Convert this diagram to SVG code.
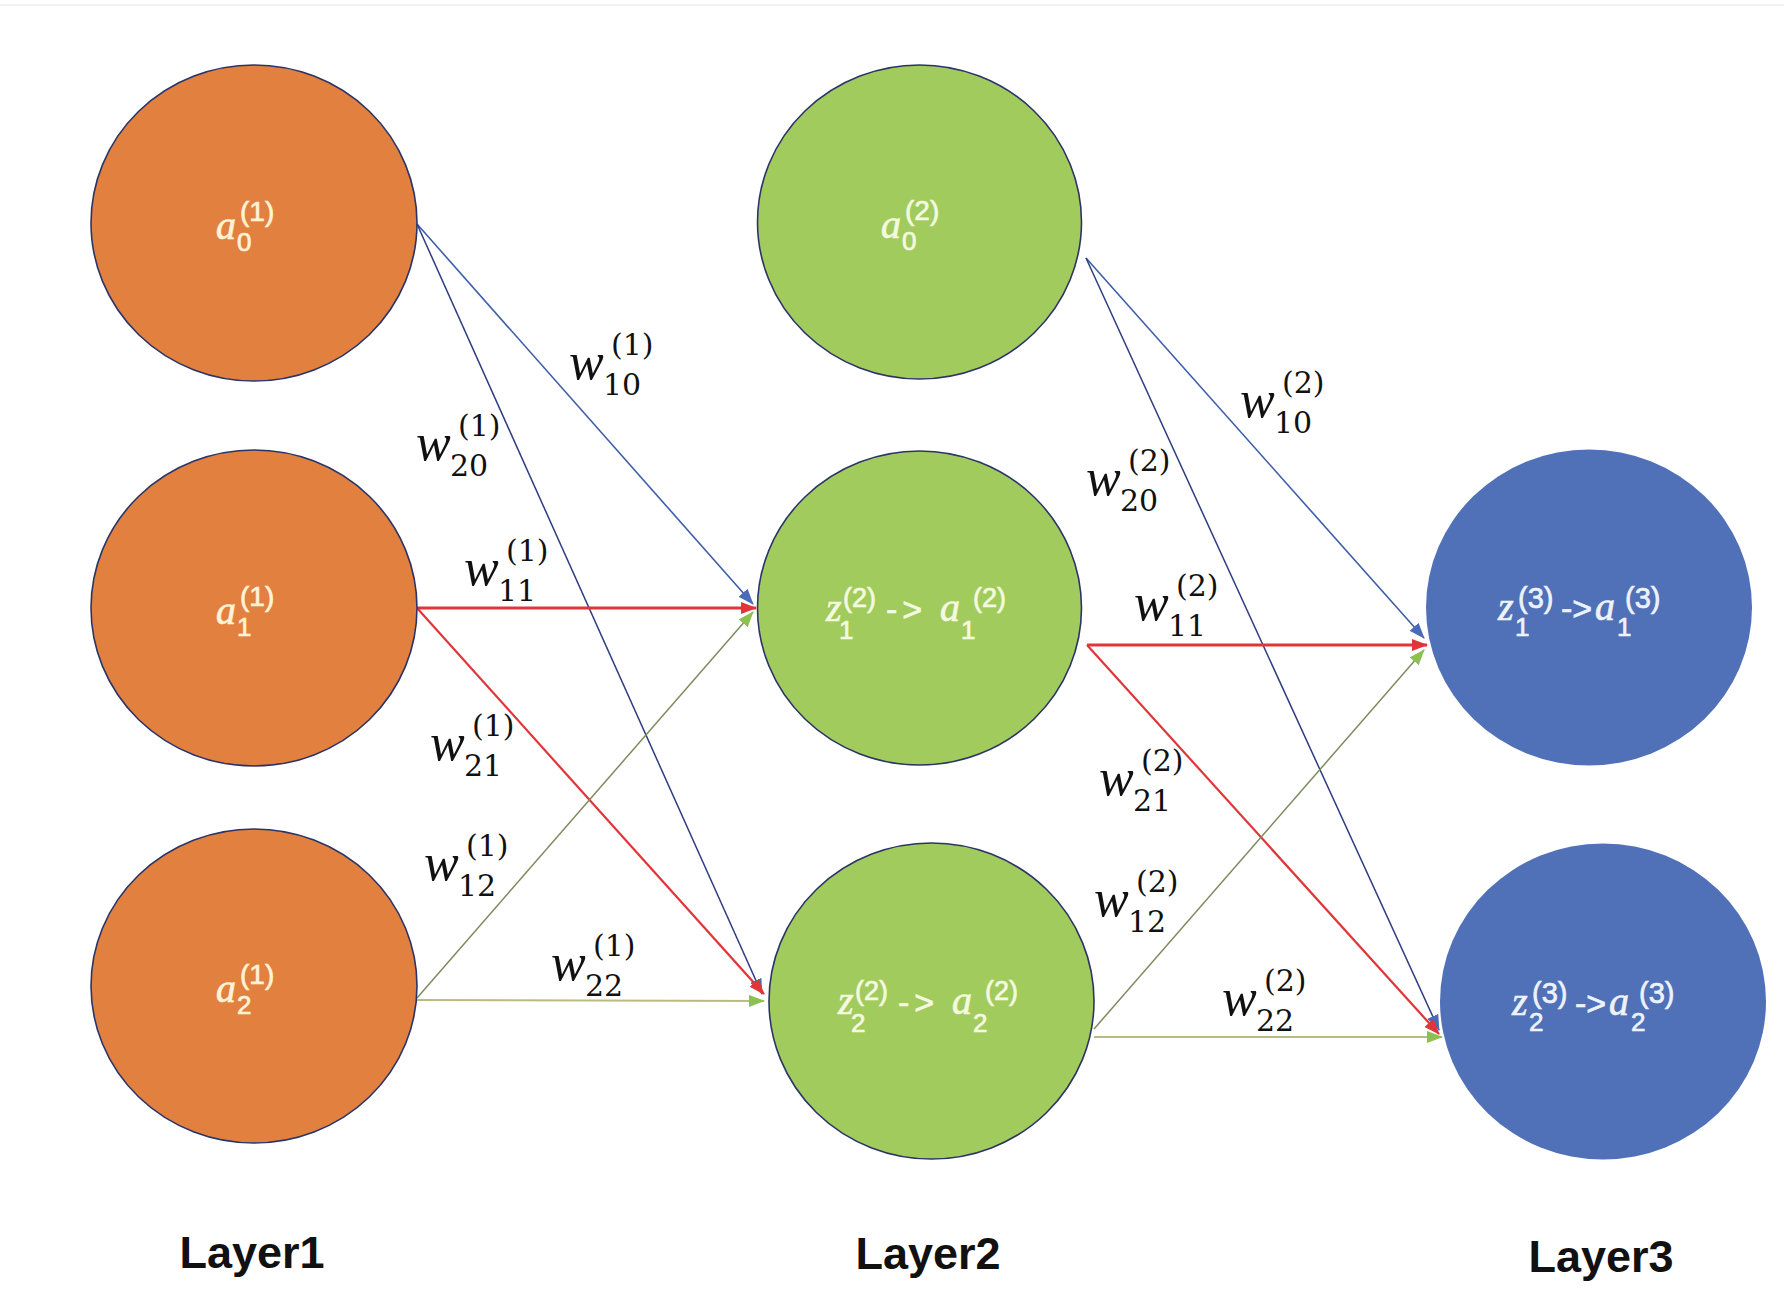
<svg xmlns="http://www.w3.org/2000/svg" width="1784" height="1290" viewBox="0 0 1784 1290">
<style>
.orange{fill:#E2813F;stroke:#2B3467;stroke-width:1.6}
.green{fill:#A2CB5E;stroke:#2B3467;stroke-width:1.6}
.blue{fill:#5071B8;stroke:none}
.nv{font-family:"Liberation Serif",serif;font-style:italic;font-size:40px}
.nsub{font-family:"Liberation Sans",sans-serif;font-size:26px}
.nsup1{font-family:"Liberation Sans",sans-serif;font-size:28px}
.nsup2{font-family:"Liberation Sans",sans-serif;font-size:27px}
.nsup3{font-family:"Liberation Sans",sans-serif;font-size:29px}
.arr{font-family:"Liberation Sans",sans-serif;font-size:34px}
.arrs{letter-spacing:5px}
.to{fill:#FFF3D6;stroke:#FFF3D6;stroke-width:0.7}
.tg{fill:#F4FADF;stroke:#F4FADF;stroke-width:0.7}
.tb{fill:#EEF2FB;stroke:#EEF2FB;stroke-width:0.7}
.w{font-family:"Liberation Serif",serif;font-style:italic;font-size:52px;fill:#111}
.ws{font-family:"DejaVu Serif",serif;font-size:30px;fill:#111}
.layer{font-family:"Liberation Sans",sans-serif;font-weight:bold;font-size:45px;fill:#111;text-anchor:middle}
.cb{stroke:#3E5EA6;stroke-width:1.6;fill:none}
.cn{stroke:#2E3C80;stroke-width:1.5;fill:none}
.cr{stroke:#E0363A;stroke-width:2.2;fill:none}
.crt{stroke:#E0363A;stroke-width:3;fill:none}
.co{stroke:#7D8B5E;stroke-width:1.5;fill:none}
.cy{stroke:#B9BC7E;stroke-width:2.2;fill:none}
</style>
<defs>
<marker id="mb" markerUnits="userSpaceOnUse" markerWidth="16" markerHeight="12" refX="15" refY="6" orient="auto"><path d="M0,0 L16,6 L0,12 z" fill="#4A6CB8"/></marker>
<marker id="mr" markerUnits="userSpaceOnUse" markerWidth="16" markerHeight="12" refX="15" refY="6" orient="auto"><path d="M0,0 L16,6 L0,12 z" fill="#E0363A"/></marker>
<marker id="mg" markerUnits="userSpaceOnUse" markerWidth="16" markerHeight="12" refX="15" refY="6" orient="auto"><path d="M0,0 L16,6 L0,12 z" fill="#8CC152"/></marker>
</defs>
<rect x="0" y="0" width="1784" height="1290" fill="#FFFFFF"/>
<line x1="0" y1="5" x2="1784" y2="5" stroke="#ECECEC" stroke-width="1.5"/>

<g id="connectors">
<line class="cb" x1="417" y1="224" x2="753" y2="604" marker-end="url(#mb)"/>
<line class="cn" x1="417" y1="224" x2="762" y2="994" marker-end="url(#mb)"/>
<line class="crt" x1="417" y1="608" x2="756" y2="608" marker-end="url(#mr)"/>
<line class="cr" x1="417" y1="608" x2="764" y2="994" marker-end="url(#mr)"/>
<line class="co" x1="417" y1="998" x2="753" y2="612" marker-end="url(#mg)"/>
<line class="cy" x1="417" y1="1000" x2="764" y2="1001" marker-end="url(#mg)"/>

<line class="cb" x1="1086" y1="258" x2="1424" y2="638" marker-end="url(#mb)"/>
<line class="cn" x1="1086" y1="258" x2="1439" y2="1030" marker-end="url(#mb)"/>
<line class="crt" x1="1087" y1="645" x2="1427" y2="645" marker-end="url(#mr)"/>
<line class="cr" x1="1087" y1="645" x2="1439" y2="1034" marker-end="url(#mr)"/>
<line class="co" x1="1094" y1="1029" x2="1424" y2="650" marker-end="url(#mg)"/>
<line class="cy" x1="1094" y1="1037" x2="1442" y2="1037" marker-end="url(#mg)"/>
</g>

<g id="weights">
<g transform="translate(569,379)"><text class="w">w</text><text class="ws" x="34" y="16">10</text><text class="ws" x="42" y="-24">(1)</text></g>
<g transform="translate(416,460)"><text class="w">w</text><text class="ws" x="34" y="16">20</text><text class="ws" x="42" y="-24">(1)</text></g>
<g transform="translate(464,585)"><text class="w">w</text><text class="ws" x="34" y="16">11</text><text class="ws" x="42" y="-24">(1)</text></g>
<g transform="translate(430,760)"><text class="w">w</text><text class="ws" x="34" y="16">21</text><text class="ws" x="42" y="-24">(1)</text></g>
<g transform="translate(424,880)"><text class="w">w</text><text class="ws" x="34" y="16">12</text><text class="ws" x="42" y="-24">(1)</text></g>
<g transform="translate(551,980)"><text class="w">w</text><text class="ws" x="34" y="16">22</text><text class="ws" x="42" y="-24">(1)</text></g>

<g transform="translate(1240,417)"><text class="w">w</text><text class="ws" x="34" y="16">10</text><text class="ws" x="42" y="-24">(2)</text></g>
<g transform="translate(1086,495)"><text class="w">w</text><text class="ws" x="34" y="16">20</text><text class="ws" x="42" y="-24">(2)</text></g>
<g transform="translate(1134,620)"><text class="w">w</text><text class="ws" x="34" y="16">11</text><text class="ws" x="42" y="-24">(2)</text></g>
<g transform="translate(1099,795)"><text class="w">w</text><text class="ws" x="34" y="16">21</text><text class="ws" x="42" y="-24">(2)</text></g>
<g transform="translate(1094,916)"><text class="w">w</text><text class="ws" x="34" y="16">12</text><text class="ws" x="42" y="-24">(2)</text></g>
<g transform="translate(1222,1015)"><text class="w">w</text><text class="ws" x="34" y="16">22</text><text class="ws" x="42" y="-24">(2)</text></g>
</g>

<g id="L1_a0">
<ellipse class="orange" cx="254" cy="223" rx="163" ry="158"/>
<text class="nv to" x="216" y="239">a</text><text class="nsub to" x="237" y="251">0</text><text class="nsup1 to" x="240" y="221">(1)</text>
</g>
<g id="L1_a1">
<ellipse class="orange" cx="254" cy="608" rx="163" ry="158"/>
<text class="nv to" x="216" y="624">a</text><text class="nsub to" x="237" y="636">1</text><text class="nsup1 to" x="240" y="606">(1)</text>
</g>
<g id="L1_a2">
<ellipse class="orange" cx="254" cy="986" rx="163" ry="157"/>
<text class="nv to" x="216" y="1002">a</text><text class="nsub to" x="237" y="1014">2</text><text class="nsup1 to" x="240" y="984">(1)</text>
</g>

<g id="L2_a0">
<ellipse class="green" cx="919.5" cy="222" rx="162" ry="157"/>
<text class="nv tg" x="881" y="238">a</text><text class="nsub tg" x="902" y="250">0</text><text class="nsup1 tg" x="905" y="220">(2)</text>
</g>
<g id="L2_z1">
<ellipse class="green" cx="919.5" cy="608" rx="162" ry="157"/>
<text class="nv tg" x="826" y="621">z</text><text class="nsub tg" x="839" y="639">1</text><text class="nsup2 tg" x="843" y="607">(2)</text>
<text class="arr arrs tg" x="886" y="621">-&gt;</text>
<text class="nv tg" x="940" y="621">a</text><text class="nsub tg" x="961" y="639">1</text><text class="nsup2 tg" x="973" y="607">(2)</text>
</g>
<g id="L2_z2">
<ellipse class="green" cx="931.5" cy="1001" rx="162.5" ry="158"/>
<text class="nv tg" x="838" y="1014">z</text><text class="nsub tg" x="851" y="1032">2</text><text class="nsup2 tg" x="855" y="1000">(2)</text>
<text class="arr arrs tg" x="898" y="1014">-&gt;</text>
<text class="nv tg" x="952" y="1014">a</text><text class="nsub tg" x="973" y="1032">2</text><text class="nsup2 tg" x="985" y="1000">(2)</text>
</g>

<g id="L3_z1">
<ellipse class="blue" cx="1589" cy="607.5" rx="163" ry="158"/>
<text class="nv tb" x="1498" y="620">z</text><text class="nsub tb" x="1515" y="636">1</text><text class="nsup3 tb" x="1518" y="608">(3)</text>
<text class="arr tb" x="1561" y="620">-&gt;</text>
<text class="nv tb" x="1595" y="620">a</text><text class="nsub tb" x="1617" y="636">1</text><text class="nsup3 tb" x="1625" y="608">(3)</text>
</g>
<g id="L3_z2">
<ellipse class="blue" cx="1603" cy="1001.5" rx="163" ry="158"/>
<text class="nv tb" x="1512" y="1015">z</text><text class="nsub tb" x="1529" y="1031">2</text><text class="nsup3 tb" x="1532" y="1003">(3)</text>
<text class="arr tb" x="1575" y="1015">-&gt;</text>
<text class="nv tb" x="1609" y="1015">a</text><text class="nsub tb" x="1631" y="1031">2</text><text class="nsup3 tb" x="1639" y="1003">(3)</text>
</g>

<g id="layers">
<text class="layer" x="252" y="1268">Layer1</text>
<text class="layer" x="928" y="1269">Layer2</text>
<text class="layer" x="1601" y="1272">Layer3</text>
</g>
</svg>
